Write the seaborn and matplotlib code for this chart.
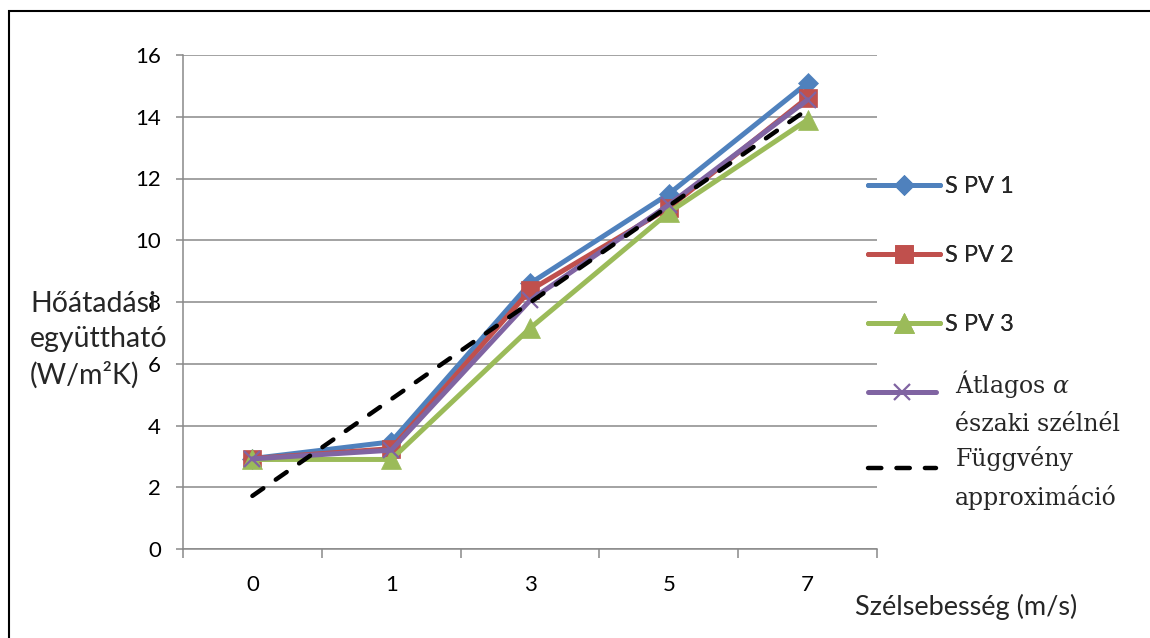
import numpy as np
import pandas as pd
import seaborn as sns
import matplotlib
matplotlib.use("Agg")
import matplotlib.pyplot as plt
import matplotlib.transforms as mtransforms
from matplotlib.patches import Rectangle
from matplotlib.ticker import FixedLocator

# Wind speed categories (m/s) and measured heat transfer coefficients (W/m²K)
speeds = ["0", "1", "3", "5", "7"]
s_pv1 = [2.93, 3.47, 8.60, 11.50, 15.10]
s_pv2 = [2.93, 3.25, 8.38, 11.05, 14.62]
s_pv3 = [2.90, 2.90, 7.15, 10.90, 13.90]
atlag = [2.92, 3.20, 8.05, 11.15, 14.55]
approx = [1.72, 4.85, 7.98, 11.11, 14.24]

series_names = ["S PV 1", "S PV 2", "S PV 3"]
avg_name = "Átlagos $\\alpha$\nészaki szélnél"
approx_name = "Függvény\napproximáció"
y_ticks = [0, 2, 4, 6, 8, 10, 12, 14, 16]

sns.set_theme(style="white")
plt.rcParams["font.family"] = ["Lato", "DejaVu Sans"]
plt.rcParams["mathtext.fontset"] = "dejavuserif"

W, H = 1150, 638
fig = plt.figure(figsize=(W / 100, H / 100), dpi=100)
ax = fig.add_axes([183 / W, 1 - 549 / H, (877 - 183) / W, (549 - 55) / H])

grey = "#898989"
lw = 3.6
styles = [
    dict(color="#4F81BD", marker="D", markersize=10.5),
    dict(color="#C0504D", marker="s", markersize=13),
    dict(color="#9BBB59", marker="^", markersize=14),
]
for name, vals, st in zip(series_names, [s_pv1, s_pv2, s_pv3], styles):
    sns.lineplot(x=speeds, y=vals, ax=ax, lw=lw, markeredgewidth=0.5,
                 markeredgecolor=st["color"], label=name, legend=False, **st)
sns.lineplot(x=speeds, y=atlag, ax=ax, color="#8064A2", lw=lw, marker="x",
             markersize=12, markeredgewidth=1.6, markeredgecolor="#8064A2",
             label=avg_name, legend=False)
sns.lineplot(x=speeds, y=approx, ax=ax, color="black", lw=3.2,
             linestyle=(0, (3.0, 3.4)), dash_capstyle="round",
             label=approx_name, legend=False)

ax.set_xlim(-0.5, 4.5)
ax.set_ylim(0, 16)
ax.set_yticks(y_ticks)
ax.set_xlabel("")
ax.set_ylabel("")
ax.yaxis.grid(True, color=grey, lw=1.1)
ax.xaxis.grid(False)
ax.set_axisbelow(True)
for side in ["top", "right"]:
    ax.spines[side].set_visible(False)
for side in ["left", "bottom"]:
    ax.spines[side].set_color(grey)
    ax.spines[side].set_linewidth(1.1)

ax.xaxis.set_minor_locator(FixedLocator(np.arange(-0.5, 5.0, 1.0)))
ax.tick_params(axis="x", which="major", length=0, pad=19, labelsize=16,
               labelcolor="black")
ax.tick_params(axis="x", which="minor", length=6.5, width=1.1, color=grey,
               direction="out", bottom=True)
ax.tick_params(axis="y", which="major", length=5, width=1.1, color=grey,
               direction="out", left=True, pad=11, labelsize=16,
               labelcolor="black")

# Legend: three sans-serif entries, then two serif entries
lines = ax.get_lines()
leg1 = fig.legend(lines[:3], series_names, loc="upper left",
                  bbox_to_anchor=(868 / W, 1 - 176 / H), frameon=False,
                  borderpad=0, borderaxespad=0, handlelength=3.05,
                  handletextpad=0.2, labelspacing=2.04,
                  prop={"family": ["Lato", "DejaVu Sans"], "size": 17})
leg2 = fig.legend(lines[3:5], [avg_name, approx_name], loc="upper left",
                  bbox_to_anchor=(868 / W, 1 - 357 / H), frameon=False,
                  borderpad=0, borderaxespad=0, handlelength=2.9,
                  handletextpad=0.8, labelspacing=0.45,
                  prop={"family": "DejaVu Serif", "size": 17})
# two-line labels sit a little below their line sample
text_shift = mtransforms.ScaledTranslation(0, -11 / 100, fig.dpi_scale_trans)
for t in leg2.get_texts():
    t.set_linespacing(1.7)
    t.set_transform(t.get_transform() + text_shift)
fig.add_artist(leg1)

fig.text(30 / W, 1 - 340 / H, "Hőátadási\negyüttható\n(W/m²K)",
         ha="left", va="center", fontsize=20.5, linespacing=1.43)
fig.text(855 / W, 1 - 607 / H, "Szélsebesség (m/s)", ha="left",
         va="center", fontsize=19.5)

# Chart frame
fig.add_artist(Rectangle((9 / W, -0.1), 1.2, 1 - 11 / H + 0.1,
                         transform=fig.transFigure, fill=False,
                         edgecolor="black", lw=1.5, clip_on=False))

fig.savefig("out.png", dpi=100)
